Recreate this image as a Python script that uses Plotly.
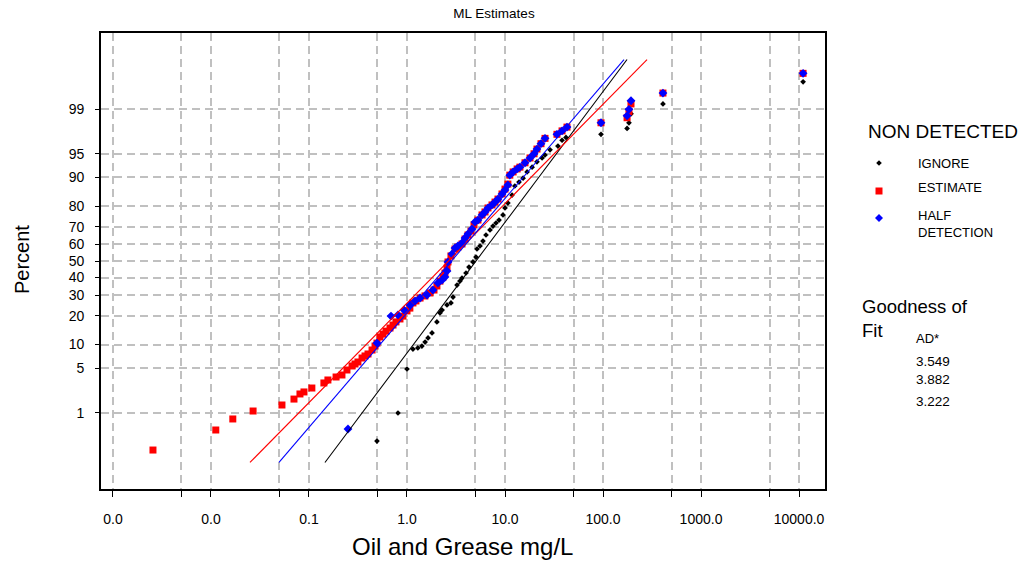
from statistics import NormalDist
import numpy as np
import plotly.graph_objects as go

ND = NormalDist()
FONT = "Liberation Sans, Arial, sans-serif"

# --- Oil and Grease (mg/L) with plotting-position percentiles -------------
ignore_x = [0.494, 0.809, 1.0, 1.15, 1.29, 1.42, 1.53, 1.64, 1.8, 2.02, 2.17, 2.28,
            2.56, 2.81, 2.95, 3.24, 3.47, 3.64, 4.0, 4.29, 4.71, 5.06, 5.18, 5.56,
            5.96, 6.4, 7.03, 7.54, 8.09, 8.69, 9.54, 10.0, 10.7, 11.8, 12.6, 13.9,
            15.3, 16.8, 18.9, 21.2, 23.9, 25.6, 28.8, 34.7, 38.2, 41.9, 95.4, 176.0,
            184.0, 193.0, 409.0, 11000.0]
ignore_pct = [0.288, 0.987, 4.88, 8.85, 9.11, 9.61, 10.7, 11.9, 13.5, 17.5, 21.3, 22.6,
              25.0, 26.0, 29.0, 35.6, 37.9, 39.7, 42.7, 46.3, 49.4, 52.4, 57.3, 59.1,
              62.0, 65.5, 68.3, 70.4, 72.0, 73.5, 76.0, 79.2, 81.3, 84.4, 87.5, 88.7,
              89.8, 91.4, 92.5, 93.6, 94.3, 94.8, 95.6, 96.1, 96.8, 97.1, 97.4, 97.9,
              98.3, 98.8, 99.2, 99.7]

estimate_x = [0.00256, 0.0112, 0.0167, 0.0269, 0.053, 0.0703, 0.0809, 0.0889, 0.107,
              0.142, 0.156, 0.189, 0.217, 0.244, 0.275, 0.295, 0.316, 0.348, 0.373,
              0.4, 0.44, 0.472, 0.494, 0.53, 0.569, 0.611, 0.671, 0.72, 0.772, 0.848,
              0.91, 1.0, 1.07, 1.15, 1.235, 1.36, 1.526, 1.717, 1.886, 2.02, 2.17,
              2.33, 2.44, 2.56, 2.62, 2.81, 3.09, 3.31, 3.64, 3.91, 4.19, 4.5, 4.83,
              5.3, 5.83, 6.25, 6.71, 7.37, 7.91, 8.48, 9.32, 10.0, 10.7, 11.2, 12.1,
              13.3, 14.2, 16.0, 18.0, 19.8, 21.2, 23.3, 25.6, 33.9, 38.2, 42.9, 95.4,
              176.0, 184.0, 193.0, 409.0, 11000.0]
estimate_pct = [0.187, 0.477, 0.77, 1.07, 1.36, 1.71, 2.07, 2.23, 2.57, 3.07, 3.4, 3.76,
                4.02, 4.73, 5.37, 5.71, 6.07, 6.84, 7.26, 7.69, 8.61, 9.61, 10.4, 12.2,
                13.1, 14.1, 15.2, 16.3, 17.5, 18.7, 19.9, 22.2, 23.5, 26.0, 27.0, 28.5,
                29.6, 31.2, 32.8, 35.1, 37.9, 40.3, 42.7, 45.7, 49.4, 53.1, 57.3, 58.5,
                60.3, 63.2, 65.5, 67.7, 71.0, 73.5, 76.0, 77.4, 79.2, 80.5, 81.7, 82.9,
                84.8, 86.5, 88.1, 90.6, 91.4, 92.1, 92.5, 93.4, 94.3, 95.0, 95.7, 96.4,
                97.0, 97.4, 97.7, 98.0, 98.3, 98.6, 98.9, 99.2, 99.5, 99.8]

half_x = [0.25, 0.494, 0.687, 0.809, 0.932, 1.07, 1.21, 1.36, 1.6, 1.84, 2.07, 2.28,
          2.44, 2.56, 2.62, 2.88, 3.09, 3.31, 3.64, 3.91, 4.19, 4.61, 4.94, 5.3, 5.83,
          6.25, 6.71, 7.37, 7.91, 8.48, 9.32, 10.0, 10.7, 11.2, 12.1, 13.3, 14.2, 16.0,
          18.0, 19.8, 21.2, 23.3, 25.6, 33.9, 38.2, 42.9, 95.4, 176.0, 184.0, 193.0,
          409.0, 11000.0]
half_pct = [0.499, 10.4, 19.9, 20.4, 22.6, 25.0, 27.0, 28.5, 30.1, 32.8, 36.8, 38.5,
            40.3, 43.9, 49.4, 54.3, 57.9, 59.1, 60.9, 63.8, 66.1, 68.8, 72.5, 73.5,
            76.0, 77.4, 79.2, 80.5, 81.7, 82.9, 84.8, 86.2, 87.8, 90.6, 91.4, 92.1,
            92.5, 93.4, 94.3, 95.0, 95.7, 96.4, 97.0, 97.4, 97.7, 98.0, 98.3, 98.7,
            99.0, 99.3, 99.5, 99.8]

# Lognormal ML fits: mean and sd of log10(x)
fit_params = {"IGNORE": (0.704, 0.4987), "ESTIMATE": (0.4235, 0.6555),
              "HALF DETECTION": (0.454, 0.5696)}
fit_pct_span = [0.1, 99.9]
ad_stats = ["3.549", "3.882", "3.222"]

pct_ticks = [1, 5, 10, 20, 30, 40, 50, 60, 70, 80, 90, 95, 99]
x_ticks = [0.001, 0.005, 0.01, 0.05, 0.1, 0.5, 1, 5, 10, 50, 100, 500, 1000, 5000, 10000]
x_ticktext = ["0.0", "", "0.0", "", "0.1", "", "1.0", "", "10.0", "", "100.0", "",
              "1000.0", "", "10000.0"]


def zscore(pcts):
    return [ND.inv_cdf(p / 100.0) for p in pcts]


fig = go.Figure()

colors = {"IGNORE": "#000000", "ESTIMATE": "#ff0000", "HALF DETECTION": "#0000ff"}
series = [("IGNORE", ignore_x, ignore_pct, "diamond", 4.4),
          ("ESTIMATE", estimate_x, estimate_pct, "square", 7),
          ("HALF DETECTION", half_x, half_pct, "diamond", 6.8)]

for name, xs, ps, sym, size in series:
    fig.add_trace(go.Scatter(x=xs, y=zscore(ps), mode="markers", name=name,
                             marker=dict(symbol=sym, size=size, color=colors[name],
                                         line=dict(width=0)),
                             showlegend=False))

for name in ["IGNORE", "ESTIMATE", "HALF DETECTION"]:
    mu, sd = fit_params[name]
    zz = np.array(zscore(fit_pct_span))
    fig.add_trace(go.Scatter(x=10 ** (mu + sd * zz), y=zz, mode="lines",
                             line=dict(color=colors[name], width=1.1),
                             showlegend=False, hoverinfo="skip"))

# plot-area geometry in pixels (used for placing the side panel)
L, R, T, B = 101, 825, 33, 489


def px(x):
    return (x - L) / (R - L)


def py(y):
    return (B - y) / (B - T)


grid = dict(showgrid=True, gridcolor="#c0c0c0", gridwidth=1.6, griddash="8px,5px",
            showline=True, linecolor="black", linewidth=1.6, mirror=True,
            ticks="outside", tickcolor="black", zeroline=False)

fig.update_xaxes(type="log", range=[np.log10(x_ticks[0]) - 0.122, np.log10(x_ticks[-1]) + 0.265],
                 tickmode="array", tickvals=x_ticks, ticktext=x_ticktext,
                 ticklen=6, tickfont=dict(family=FONT, size=14, color="black"),
                 ticklabelstandoff=10, **grid)
fig.update_yaxes(range=[-3.497, 3.497], tickmode="array", tickvals=zscore(pct_ticks),
                 ticktext=[str(p) for p in pct_ticks], ticklen=4,
                 tickfont=dict(family=FONT, size=14, color="black"),
                 ticklabelstandoff=8, **grid)

ann = []
ann.append(dict(text="Oil and Grease mg/L", x=px(462), y=py(546), font=dict(size=24)))
ann.append(dict(text="Percent", x=px(22), y=py(260), textangle=-90, font=dict(size=20)))
ann.append(dict(text="NON DETECTED", x=px(866), y=py(132), xanchor="left", font=dict(size=19)))
ann.append(dict(text="IGNORE", x=px(916), y=py(164), xanchor="left", font=dict(size=13)))
ann.append(dict(text="ESTIMATE", x=px(916), y=py(187), xanchor="left", font=dict(size=13)))
ann.append(dict(text="HALF<br>DETECTION", x=px(916), y=py(224), xanchor="left",
                align="left", font=dict(size=13)))
ann.append(dict(text="Goodness of<br>Fit", x=px(860), y=py(318), xanchor="left",
                align="left", font=dict(size=18.5)))
ann.append(dict(text="AD*", x=px(914), y=py(338), xanchor="left", font=dict(size=13)))
for val, yy in zip(ad_stats, [361, 379, 401]):
    ann.append(dict(text=val, x=px(914), y=py(yy), xanchor="left", font=dict(size=13.5)))
for a in ann:
    a.setdefault("xanchor", "center")
    a.update(xref="paper", yref="paper", yanchor="middle", showarrow=False)
    a["font"] = dict(family=FONT, color="black", **a["font"])

# legend glyphs
shapes = []


def diamond(cx, cy, r, color):
    pts = [(cx - r, cy), (cx, cy - r), (cx + r, cy), (cx, cy + r)]
    path = "M " + " L ".join(f"{px(a):.5f},{py(b):.5f}" for a, b in pts) + " Z"
    return dict(type="path", path=path, xref="paper", yref="paper",
                fillcolor=color, line=dict(width=0))


shapes.append(diamond(879, 163, 2.8, "#000000"))
shapes.append(dict(type="rect", xref="paper", yref="paper", x0=px(875.5), x1=px(882.5),
                   y0=py(194.5), y1=py(187.5), fillcolor="#ff0000", line=dict(width=0)))
shapes.append(diamond(879, 218, 4.0, "#0000ff"))

fig.update_layout(
    width=1028, height=564,
    margin=dict(l=L, r=1028 - R, t=T, b=564 - B),
    paper_bgcolor="white", plot_bgcolor="white",
    title=dict(text="ML Estimates", x=494 / 1028, xanchor="center", y=1 - 13 / 564,
               yanchor="middle", font=dict(family=FONT, size=13.5, color="black")),
    annotations=ann, shapes=shapes, showlegend=False,
)

fig.write_html("out.html")
